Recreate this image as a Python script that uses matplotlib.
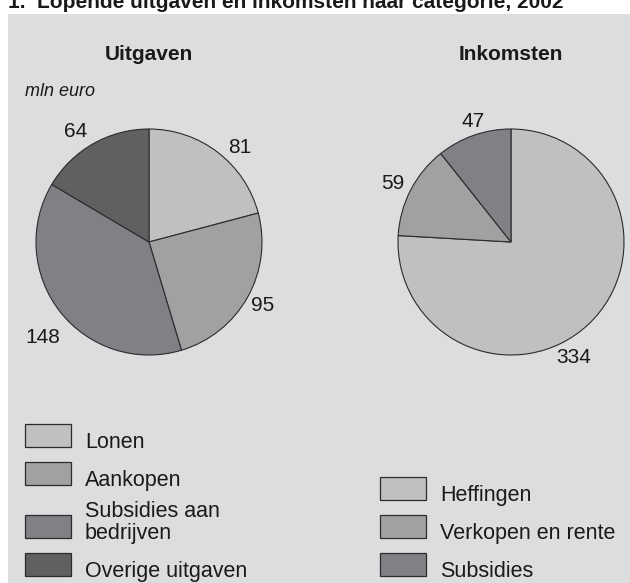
import matplotlib
matplotlib.use("Agg")
import numpy as np
import matplotlib.pyplot as plt
from matplotlib.patches import Rectangle

plt.rcParams['font.family'] = ['Liberation Sans', 'DejaVu Sans']

# ---- data ----
title = "1.  Lopende uitgaven en inkomsten naar categorie, 2002"
unit_label = "mln euro"

exp_title = "Uitgaven"
exp_categories = ["Lonen", "Aankopen", "Subsidies aan\nbedrijven", "Overige uitgaven"]
exp_values = [81, 95, 148, 64]

inc_title = "Inkomsten"
inc_categories = ["Heffingen", "Verkopen en rente", "Subsidies"]
inc_values = [334, 59, 47]

# ---- style ----
exp_colors = ["#bfc0c2", "#a0a1a3", "#808184", "#5f6062"]
inc_colors = ["#bfc0c2", "#a0a1a3", "#808184"]
panel_color = "#dcdddf"
edge_color = "#2b2b2b"
text_color = "#1a1a1a"

W, H = 630, 583
fig = plt.figure(figsize=(W / 100, H / 100), dpi=100)
fig.patch.set_facecolor("white")


def fx(x):
    return x / W


def fy(y):
    return 1 - y / H


# grey panel
fig.patches.append(Rectangle((fx(8), 0), 1 - fx(8), fy(14), transform=fig.transFigure,
                             facecolor=panel_color, edgecolor="none", zorder=-5))

# title (partly cut off at top, as in reference)
fig.text(fx(8), fy(8), title, fontsize=15, fontweight="bold", color=text_color,
         va="baseline", ha="left")

R = 113


def draw_pie(cx, cy, values, colors, label_offsets, label_dists, header):
    ax = fig.add_axes([fx(cx - R), fy(cy + R), 2 * R / W, 2 * R / H])
    ax.set_facecolor("none")
    ax.set_zorder(1)
    wedges, _ = ax.pie(values, colors=colors, startangle=90, counterclock=False,
                       radius=1, wedgeprops=dict(edgecolor=edge_color, linewidth=0.8))
    for w, v, off, d in zip(wedges, values, label_offsets, label_dists):
        mid = np.deg2rad((w.theta1 + w.theta2) / 2 + off)
        ax.text(d * np.cos(mid), d * np.sin(mid), str(v), fontsize=15,
                ha="center", va="center", color=text_color, clip_on=False)
    ax.set_xlim(-1, 1)
    ax.set_ylim(-1, 1)
    ax.set_aspect("equal")
    ax.axis("off")
    fig.text(fx(cx), fy(60), header, fontsize=15, fontweight="bold",
             ha="center", va="baseline", color=text_color)
    return ax


draw_pie(149, 242, exp_values, exp_colors, [-6.5, 0, 4, 4], [1.16, 1.15, 1.26, 1.17], exp_title)
draw_pie(511, 242, inc_values, inc_colors, [-15, 1, -2], [1.16, 1.17, 1.12], inc_title)

fig.text(fx(25), fy(96), unit_label, fontsize=13, fontstyle="italic",
         ha="left", va="baseline", color=text_color)

# legends
PW, PH = 46, 23


def draw_legend(x0, tops, cats, colors):
    for top, cat, col in zip(tops, cats, colors):
        fig.patches.append(Rectangle((fx(x0), fy(top + PH)), PW / W, PH / H,
                                     transform=fig.transFigure, facecolor=col,
                                     edgecolor=edge_color, linewidth=0.9, zorder=2))
        nlines = cat.count("\n")
        if nlines:
            fig.text(fx(x0 + PW + 14), fy(top + PH + 6), cat, fontsize=15.5,
                     ha="left", va="bottom", linespacing=1.08, color=text_color)
        else:
            fig.text(fx(x0 + PW + 14), fy(top + PH + 1), cat, fontsize=15.5,
                     ha="left", va="baseline", color=text_color)


draw_legend(25, [424, 462, 515, 553], exp_categories, exp_colors)
draw_legend(380, [477, 515, 553], inc_categories, inc_colors)

fig.savefig("out.png", dpi=100, facecolor=fig.get_facecolor())
